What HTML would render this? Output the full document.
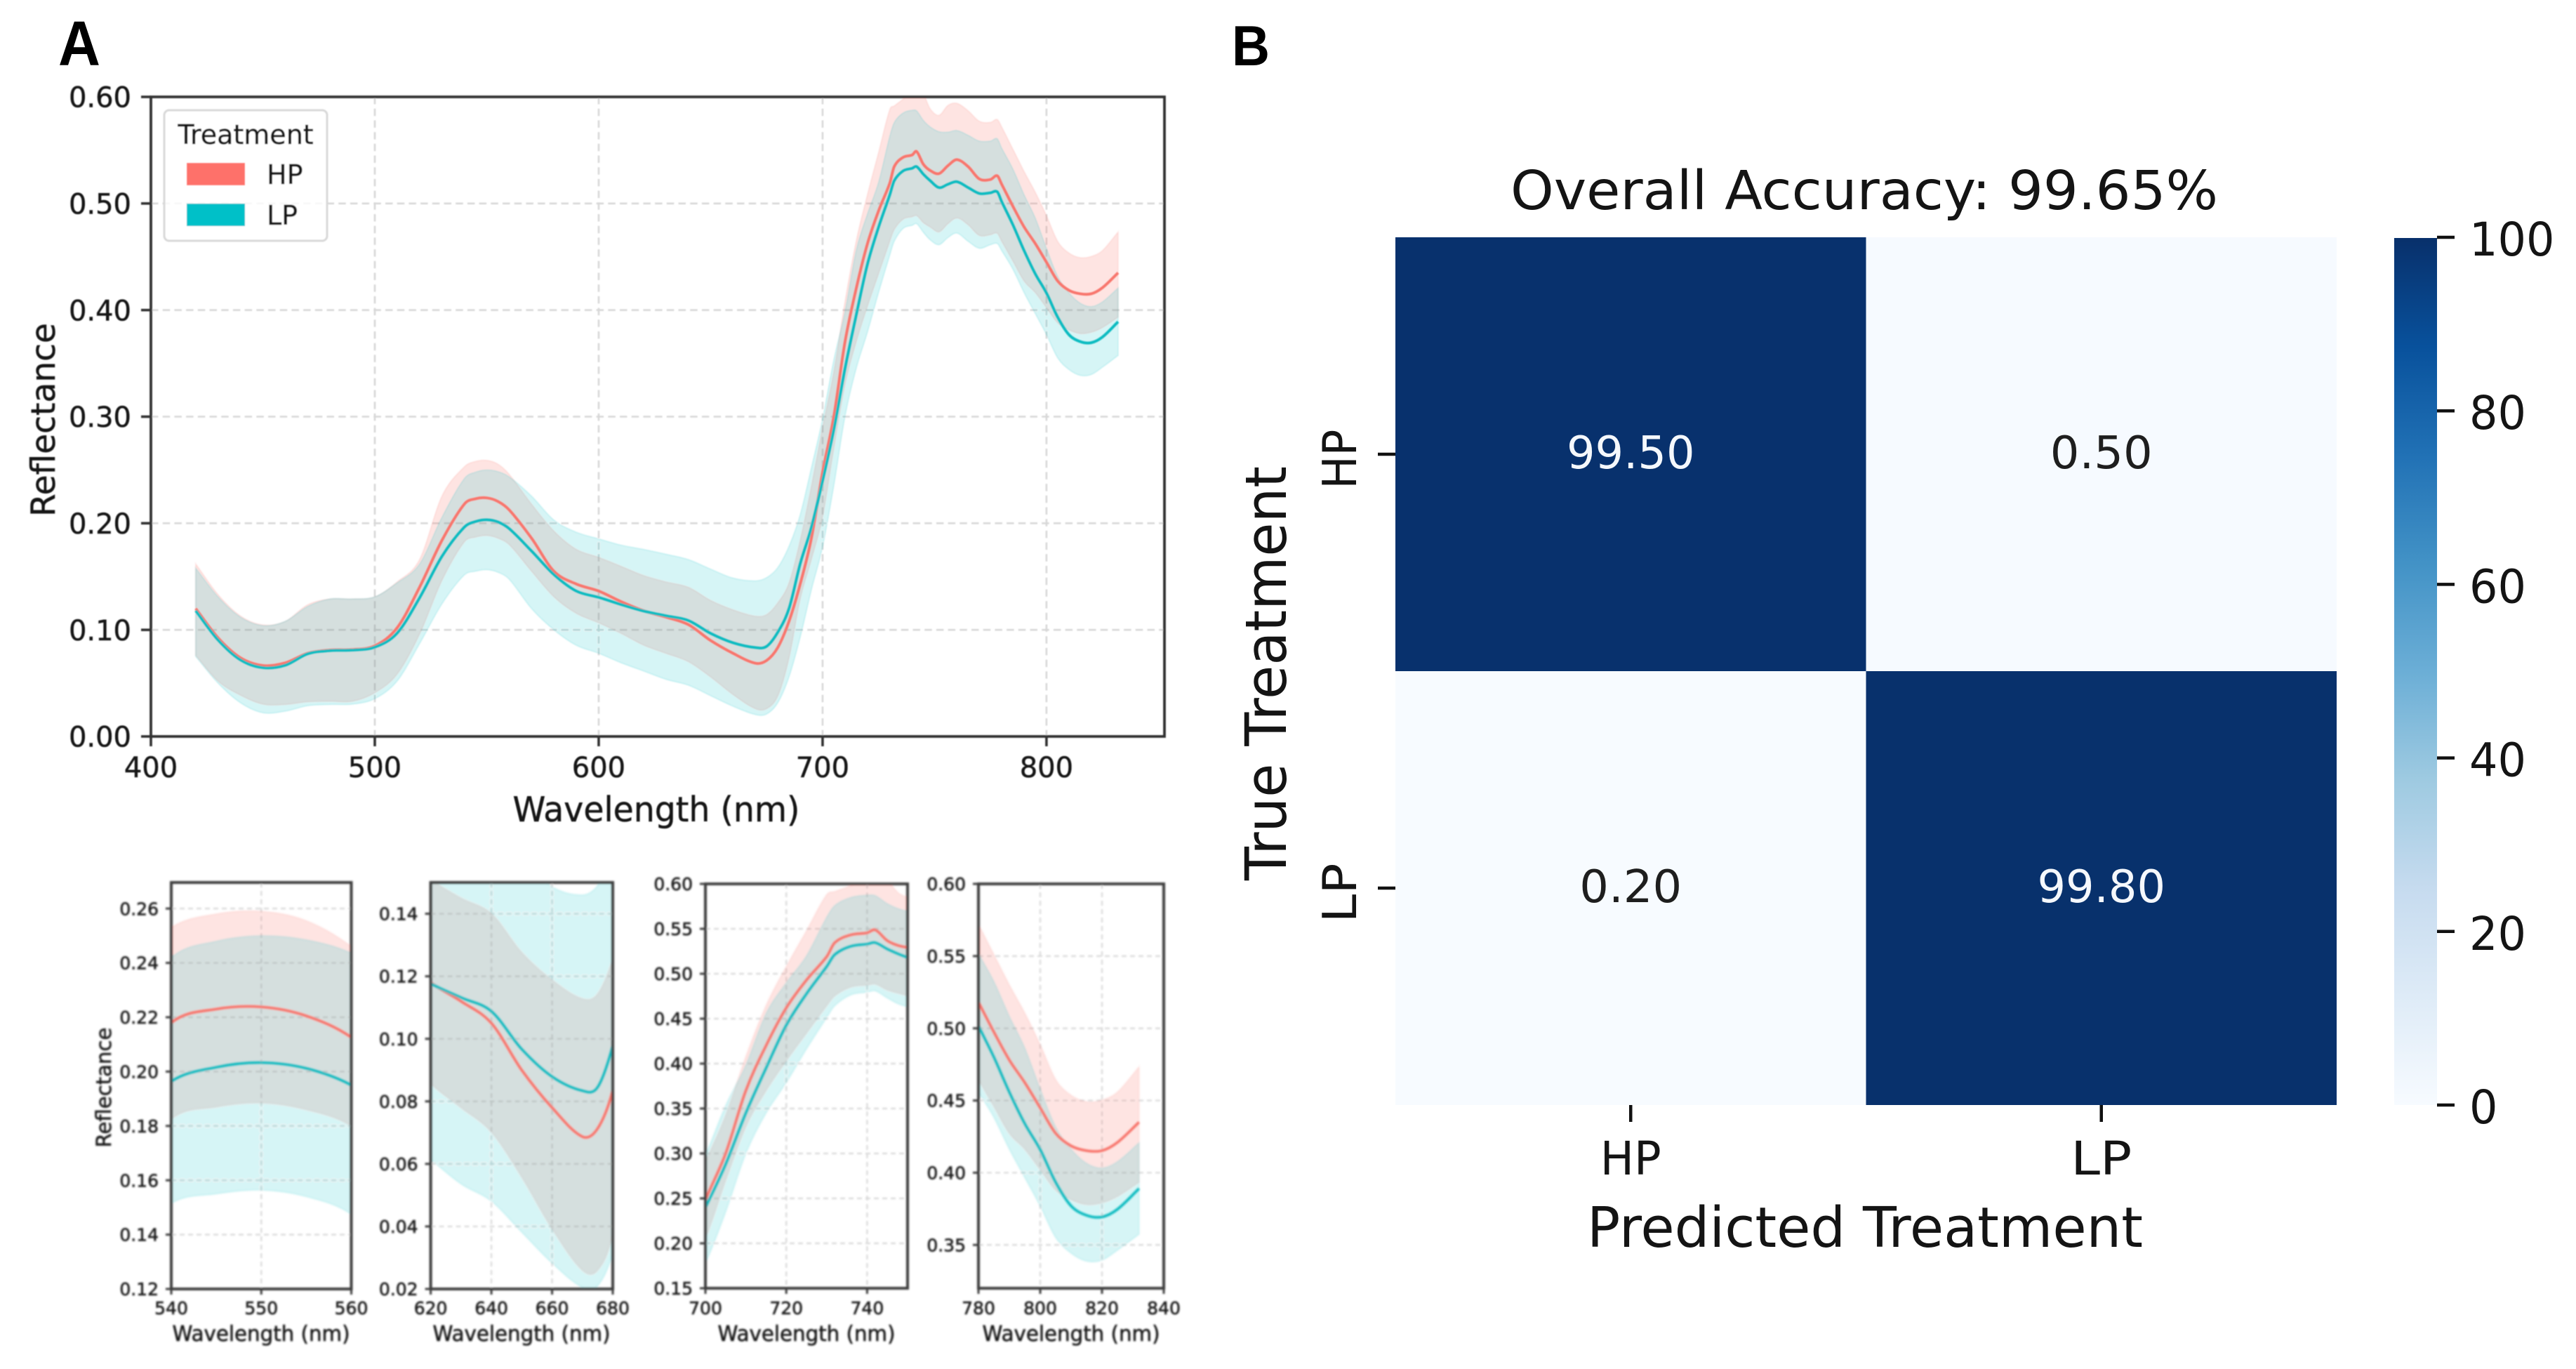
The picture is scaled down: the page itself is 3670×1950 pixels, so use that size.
<!DOCTYPE html>
<html lang="en">
<head>
<meta charset="utf-8">
<title>Reflectance spectra and confusion matrix</title>
<style>
html,body{margin:0;padding:0;background:#fff;}
svg{display:block;}
text{font-family:"DejaVu Sans","Liberation Sans",sans-serif;fill:#141414;}
#main-panel text,#legend text{stroke:#1a1a1a;stroke-width:.5px;}
#sub-panel-1 text,#sub-panel-2 text,#sub-panel-3 text,#sub-panel-4 text{stroke:#1a1a1a;stroke-width:.55px;}
.panel-letter{font-family:"Liberation Sans",sans-serif;font-weight:700;fill:#000;}
</style>
</head>
<body>
<svg id="figure" xmlns="http://www.w3.org/2000/svg" width="3670" height="1950" viewBox="0 0 3670 1950">
  <defs>
    <filter id="soft-main" x="-5%" y="-5%" width="110%" height="110%"><feGaussianBlur stdDeviation="0.9"/></filter>
    <filter id="soft-sub" x="-5%" y="-5%" width="110%" height="110%"><feGaussianBlur stdDeviation="1.3"/></filter>
    <linearGradient id="blues-gradient" x1="0" y1="1" x2="0" y2="0"></linearGradient>
  </defs>
  <rect width="3670" height="1950" fill="#fff"/>

  <text class="panel-letter" x="83" y="93" font-size="90" textLength="60" lengthAdjust="spacingAndGlyphs">A</text>
  <text class="panel-letter" x="1755" y="93" font-size="81" textLength="54" lengthAdjust="spacingAndGlyphs">B</text>

  <g id="main-panel" filter="url(#soft-main)">
    <text x="935" y="1170" font-size="49" text-anchor="middle" textLength="409" lengthAdjust="spacingAndGlyphs">Wavelength (nm)</text>
    <text transform="translate(78,598) rotate(-90)" font-size="47" text-anchor="middle" textLength="276" lengthAdjust="spacingAndGlyphs">Reflectance</text>
  </g>

  <g id="sub-panel-1" filter="url(#soft-sub)">
    <text x="372" y="1910" font-size="30" text-anchor="middle" textLength="253" lengthAdjust="spacingAndGlyphs">Wavelength (nm)</text>
    <text transform="translate(158,1549) rotate(-90)" font-size="29" text-anchor="middle" textLength="171" lengthAdjust="spacingAndGlyphs">Reflectance</text>
  </g>
  <g id="sub-panel-2" filter="url(#soft-sub)">
    <text x="743" y="1910" font-size="30" text-anchor="middle" textLength="253" lengthAdjust="spacingAndGlyphs">Wavelength (nm)</text>
  </g>
  <g id="sub-panel-3" filter="url(#soft-sub)">
    <text x="1149" y="1910" font-size="30" text-anchor="middle" textLength="253" lengthAdjust="spacingAndGlyphs">Wavelength (nm)</text>
  </g>
  <g id="sub-panel-4" filter="url(#soft-sub)">
    <text x="1526" y="1910" font-size="30" text-anchor="middle" textLength="253" lengthAdjust="spacingAndGlyphs">Wavelength (nm)</text>
  </g>

  <g id="legend" filter="url(#soft-main)">
    <rect x="234" y="157" width="232" height="186" rx="7" fill="#fff" fill-opacity="0.8" stroke="#d8d8d8" stroke-width="3"/>
    <text x="350" y="205" font-size="38" text-anchor="middle">Treatment</text>
    <rect x="266" y="232" width="83" height="32" fill="#fe716a"/>
    <text x="380" y="262" font-size="38">HP</text>
    <rect x="266" y="290" width="83" height="32" fill="#00c0c8"/>
    <text x="380" y="320" font-size="38">LP</text>
  </g>

  <g id="heatmap">
    <text x="2656" y="298" font-size="77" text-anchor="middle" textLength="1008" lengthAdjust="spacingAndGlyphs">Overall Accuracy: 99.65%</text>
    <text x="2657" y="1776" font-size="79" text-anchor="middle" textLength="792" lengthAdjust="spacingAndGlyphs">Predicted Treatment</text>
    <text transform="translate(1832,959) rotate(-90)" font-size="81" text-anchor="middle" textLength="590" lengthAdjust="spacingAndGlyphs">True Treatment</text>
    <rect x="3411" y="339" width="61" height="1235" fill="url(#blues-gradient)"/>
  </g>
</svg>

<script>
// Spectral data
const wavelengths = [420,430,440,450,460,470,480,490,500,510,520,530,540,545,550,555,560,570,580,590,600,610,620,630,640,650,660,670,675,680,685,690,695,700,705,710,715,720,725,730,732,736,740,742,745,748,752,756,760,765,770,775,778,780,785,790,795,800,805,810,815,820,825,832];
const hpMean = [.12,.0925,.0738,.0665,.069,.078,.081,.0815,.085,.102,.14,.184,.218,.223,.2238,.2205,.2126,.186,.155,.143,.1364,.1265,.118,.112,.105,.09,.078,.0687,.0713,.0835,.108,.143,.186,.248,.30,.37,.42,.462,.493,.519,.5346,.5433,.5455,.5488,.5368,.531,.528,.5355,.5411,.5346,.523,.5225,.526,.518,.4974,.478,.4624,.4449,.4273,.4186,.4153,.4153,.421,.435];
const lpMean = [.118,.0905,.0718,.0645,.0668,.0775,.0805,.081,.0838,.097,.13,.169,.1964,.2016,.2033,.2012,.195,.174,.1519,.1364,.1305,.1238,.1177,.1132,.1088,.0967,.0879,.0834,.0845,.0978,.12,.162,.196,.24,.288,.345,.395,.4427,.4777,.508,.5214,.5306,.533,.5346,.5275,.5215,.5149,.518,.5204,.5149,.5094,.51,.511,.5017,.48,.4558,.434,.416,.3934,.377,.3705,.3694,.3747,.389];
const hpUpper = [.162,.133,.113,.1046,.108,.1235,.129,.129,.131,.145,.166,.2255,.253,.258,.259,.2555,.246,.218,.1927,.1755,.168,.1596,.151,.145,.14,.1276,.1188,.1128,.1143,.1254,.144,.184,.2347,.29,.342,.4077,.4645,.508,.5477,.588,.5915,.598,.606,.607,.603,.589,.5827,.592,.594,.587,.5772,.5761,.5788,.5718,.551,.53,.5105,.4886,.4645,.4536,.4492,.4503,.4558,.4733];
const hpLower = [.076,.0519,.0387,.0303,.03,.0325,.033,.033,.041,.0585,.096,.1464,.1825,.187,.1885,.186,.18,.155,.131,.1155,.1066,.0967,.0857,.078,.0702,.0558,.0393,.026,.026,.038,.0735,.1287,.166,.206,.27,.33,.37,.4033,.434,.4645,.4755,.4853,.4875,.4886,.482,.478,.4733,.481,.4864,.48,.47,.4707,.472,.4645,.446,.4273,.4164,.4022,.388,.3814,.378,.3792,.3836,.3934];
const lpUpper = [.158,.131,.112,.104,.108,.122,.129,.129,.131,.1442,.1618,.2057,.242,.248,.25,.2485,.2436,.2255,.203,.1916,.1854,.1795,.1755,.171,.166,.157,.1486,.146,.149,.1585,.1784,.208,.252,.298,.353,.3985,.4558,.49,.52,.563,.576,.585,.5875,.587,.578,.572,.5674,.567,.5685,.564,.5586,.5586,.5608,.552,.5324,.5083,.4864,.458,.4317,.4164,.4066,.4033,.4077,.4208];
const lpLower = [.075,.05,.0316,.0222,.0237,.0288,.03,.0303,.0354,.052,.087,.1244,.1515,.155,.1564,.154,.1475,.12,.1,.0855,.078,.0691,.0614,.0536,.0481,.0382,.0283,.0205,.021,.0316,.0558,.093,.1375,.178,.235,.30,.345,.379,.4164,.4514,.4645,.4766,.4795,.481,.473,.466,.4613,.468,.4722,.4645,.458,.4613,.4624,.4558,.4383,.4164,.3967,.377,.3552,.3443,.3388,.3395,.3464,.3574];

// Tick labels
const mainXTicks = ['400','500','600','700','800'];
const mainYTicks = ['0.00','0.10','0.20','0.30','0.40','0.50','0.60'];
const inset1XTicks = ['540','550','560'];
const inset1YTicks = ['0.12','0.14','0.16','0.18','0.20','0.22','0.24','0.26'];
const inset2XTicks = ['620','640','660','680'];
const inset2YTicks = ['0.02','0.04','0.06','0.08','0.10','0.12','0.14'];
const inset3XTicks = ['700','720','740'];
const inset3YTicks = ['0.15','0.20','0.25','0.30','0.35','0.40','0.45','0.50','0.55','0.60'];
const inset4XTicks = ['780','800','820','840'];
const inset4YTicks = ['0.35','0.40','0.45','0.50','0.55','0.60'];

// Confusion matrix
const matrixCategories = ['HP','LP'];
const matrixValues = [[99.50,0.50],[0.20,99.80]];
const matrixLabels = [['99.50','0.50'],['0.20','99.80']];
const colorbarTicks = ['0','20','40','60','80','100'];
const bluesRamp = ['#f7fbff','#deebf7','#c6dbef','#9ecae1','#6baed6','#4292c6','#2171b5','#08519c','#08306b'];

const SVGNS = 'http://www.w3.org/2000/svg';
const HP_COLOR = '#f8766d';
const LP_COLOR = '#00bfc4';

function mk(parent, tag, attrs, txt) {
  const el = document.createElementNS(SVGNS, tag);
  for (const k in attrs) el.setAttribute(k, attrs[k]);
  if (txt !== undefined) el.textContent = txt;
  parent.appendChild(el);
  return el;
}

function curveThrough(pts, moveFirst) {
  let d = (moveFirst ? 'M' : 'L') + pts[0][0].toFixed(2) + ' ' + pts[0][1].toFixed(2);
  for (let i = 0; i < pts.length - 1; i++) {
    const p0 = pts[Math.max(i - 1, 0)], p1 = pts[i], p2 = pts[i + 1], p3 = pts[Math.min(i + 2, pts.length - 1)];
    const h = p2[0] - p1[0];
    const m1 = (p2[1] - p0[1]) / ((p2[0] - p0[0]) || 1);
    const m2 = (p3[1] - p1[1]) / ((p3[0] - p1[0]) || 1);
    const s = h / 3;
    d += 'C' + (p1[0] + s).toFixed(2) + ' ' + (p1[1] + m1 * s).toFixed(2) + ' ' +
         (p2[0] - s).toFixed(2) + ' ' + (p2[1] - m2 * s).toFixed(2) + ' ' +
         p2[0].toFixed(2) + ' ' + p2[1].toFixed(2);
  }
  return d;
}

function drawPanel(opt) {
  const g = document.getElementById(opt.groupId);
  const sx = v => opt.left + (v - opt.xMin) / (opt.xMax - opt.xMin) * (opt.right - opt.left);
  const sy = v => opt.bottom - (v - opt.yMin) / (opt.yMax - opt.yMin) * (opt.bottom - opt.top);

  const clip = mk(g, 'clipPath', {id: opt.groupId + '-clip'});
  mk(clip, 'rect', {x: opt.left, y: opt.top, width: opt.right - opt.left, height: opt.bottom - opt.top});

  const plot = mk(g, 'g', {'clip-path': 'url(#' + opt.groupId + '-clip)'});
  
  

  opt.xTicks.forEach(t => {
    const x = sx(+t);
    const line = mk(plot, 'line', {x1: x, x2: x, y1: opt.top, y2: opt.bottom, stroke: '#d8d8d8', 'stroke-width': opt.gridWidth, 'stroke-dasharray': opt.dash});
    
    
  });
  opt.yTicks.forEach(t => {
    const y = sy(+t);
    const line = mk(plot, 'line', {x1: opt.left, x2: opt.right, y1: y, y2: y, stroke: '#d8d8d8', 'stroke-width': opt.gridWidth, 'stroke-dasharray': opt.dash});
    
    
  });

  // keep one sample beyond the window so curves reach the axes
  const idx = [];
  wavelengths.forEach((w, i) => {
    const prev = wavelengths[i + 1] !== undefined && wavelengths[i + 1] >= opt.xMin;
    const next = wavelengths[i - 1] !== undefined && wavelengths[i - 1] <= opt.xMax;
    if ((w >= opt.xMin && w <= opt.xMax) || (prev && w < opt.xMin) || (next && w > opt.xMax)) idx.push(i);
  });
  const pick = arr => idx.map(i => [sx(wavelengths[i]), sy(arr[i])]);
  const band = (up, lo, color, alpha, name) => {
    const top = pick(up), bot = pick(lo).reverse();
    const d = curveThrough(top, true) + curveThrough(bot, false) + 'Z';
    const el = mk(plot, 'path', {d: d, fill: color, 'fill-opacity': alpha, stroke: color, 'stroke-opacity': 0.12, 'stroke-width': 2});
    
    
  };
  const meanLine = (vals, color, name) => {
    const el = mk(plot, 'path', {d: curveThrough(pick(vals), true), fill: 'none', stroke: color, 'stroke-width': opt.lineWidth, 'stroke-linejoin': 'round'});
    
    
  };
  band(hpUpper, hpLower, HP_COLOR, 0.2, 'hp-std-band');
  band(lpUpper, lpLower, LP_COLOR, 0.16, 'lp-std-band');
  meanLine(hpMean, HP_COLOR, 'hp-mean-line');
  meanLine(lpMean, '#0cbcc1', 'lp-mean-line');

  const frame = mk(g, 'rect', {x: opt.left, y: opt.top, width: opt.right - opt.left, height: opt.bottom - opt.top, fill: 'none', stroke: opt.spine, 'stroke-width': opt.spineWidth});
  
  

  opt.xTicks.forEach(t => {
    const x = sx(+t);
    const tick = mk(g, 'line', {x1: x, x2: x, y1: opt.bottom, y2: opt.bottom + opt.tickLen, stroke: opt.spine, 'stroke-width': opt.tickWidth});
    
    
    const label = mk(g, 'text', {x: x, y: opt.xLabelY, 'font-size': opt.tickFont, 'text-anchor': 'middle'}, t);
    
    
  });
  opt.yTicks.forEach(t => {
    const y = sy(+t);
    const tick = mk(g, 'line', {x1: opt.left - opt.tickLen, x2: opt.left, y1: y, y2: y, stroke: opt.spine, 'stroke-width': opt.tickWidth});
    
    
    const label = mk(g, 'text', {x: opt.left - opt.yLabelGap, y: y + opt.tickFont * 0.365, 'font-size': opt.tickFont, 'text-anchor': 'end'}, t);
    
    
  });
}

const subStyle = {gridWidth: 2.2, dash: '7 5', lineWidth: 3.8, spine: '#3c3c3c', spineWidth: 4, tickLen: 8, tickWidth: 3, tickFont: 25, xLabelY: 1872, yLabelGap: 18};

drawPanel({groupId: 'main-panel', left: 215, right: 1659, top: 138, bottom: 1049, xMin: 400, xMax: 852.7, yMin: 0, yMax: 0.6,
  xTicks: mainXTicks, yTicks: mainYTicks, gridWidth: 2.6, dash: '10.5 6.2', lineWidth: 4, spine: '#333', spineWidth: 3.8, tickLen: 14, tickWidth: 3.6, tickFont: 40, xLabelY: 1107, yLabelGap: 28});
drawPanel(Object.assign({}, subStyle, {groupId: 'sub-panel-1', left: 244, right: 500.5, top: 1257, bottom: 1836, xMin: 540, xMax: 560, yMin: 0.12, yMax: 0.2696, xTicks: inset1XTicks, yTicks: inset1YTicks}));
drawPanel(Object.assign({}, subStyle, {groupId: 'sub-panel-2', left: 613.6, right: 873, top: 1257, bottom: 1836, xMin: 620, xMax: 680, yMin: 0.02, yMax: 0.15, xTicks: inset2XTicks, yTicks: inset2YTicks}));
drawPanel(Object.assign({}, subStyle, {groupId: 'sub-panel-3', left: 1005, right: 1293, top: 1259, bottom: 1835, xMin: 700, xMax: 750, yMin: 0.15, yMax: 0.60, xTicks: inset3XTicks, yTicks: inset3YTicks}));
drawPanel(Object.assign({}, subStyle, {groupId: 'sub-panel-4', left: 1394, right: 1658, top: 1259, bottom: 1835, xMin: 780, xMax: 840, yMin: 0.32, yMax: 0.60, xTicks: inset4XTicks, yTicks: inset4YTicks}));

// Legend must sit above the main plot
document.getElementById('figure').appendChild(document.getElementById('legend'));

// Heatmap
function hexToRgb(h) { return [1, 3, 5].map(i => parseInt(h.substr(i, 2), 16)); }
function bluesColor(v) {
  const t = Math.max(0, Math.min(1, v / 100)) * (bluesRamp.length - 1);
  const i = Math.min(Math.floor(t), bluesRamp.length - 2);
  const a = hexToRgb(bluesRamp[i]), b = hexToRgb(bluesRamp[i + 1]), f = t - i;
  return 'rgb(' + a.map((c, k) => Math.round(c + (b[k] - c) * f)).join(',') + ')';
}
(function drawHeatmap() {
  const g = document.getElementById('heatmap');
  const left = 1988, right = 3329, top = 338, bottom = 1574;
  const cellW = (right - left) / matrixCategories.length;
  const cellH = (bottom - top) / matrixCategories.length;

  const grad = document.getElementById('blues-gradient');
  bluesRamp.forEach((c, i) => {
    mk(grad, 'stop', {offset: i / (bluesRamp.length - 1), 'stop-color': c});
  });

  matrixValues.forEach((row, r) => {
    row.forEach((v, c) => {
      const x = left + c * cellW, y = top + r * cellH;
      const cell = mk(g, 'rect', {x: x, y: y, width: cellW, height: cellH, fill: bluesColor(v)});
      
      
      const label = mk(g, 'text', {x: x + cellW / 2, y: y + cellH / 2 + 20, 'font-size': 64, 'text-anchor': 'middle', textLength: matrixLabels[r][c].length * 36.5, lengthAdjust: 'spacingAndGlyphs'}, matrixLabels[r][c]);
      label.style.fill = v > 50 ? '#f5f8fc' : '#1e1e1e';
      
      
    });
  });

  matrixCategories.forEach((name, i) => {
    const cx = left + (i + 0.5) * cellW;
    const xt = mk(g, 'line', {x1: cx, x2: cx, y1: bottom, y2: bottom + 24, stroke: '#111', 'stroke-width': 4.5});
    
    
    const xl = mk(g, 'text', {x: cx, y: 1673, 'font-size': 66, 'text-anchor': 'middle', textLength: 87, lengthAdjust: 'spacingAndGlyphs'}, name);
    
    

    const cy = top + (i + 0.5) * cellH;
    const yt = mk(g, 'line', {x1: left - 25, x2: left, y1: cy, y2: cy, stroke: '#111', 'stroke-width': 4.5});
    
    
    const yl = mk(g, 'text', {transform: 'translate(1932,' + (cy + 7) + ') rotate(-90)', 'font-size': 67, 'text-anchor': 'middle', textLength: 85, lengthAdjust: 'spacingAndGlyphs'}, name);
    
    
  });

  const cbY = v => bottom - v / 100 * (bottom - top);
  colorbarTicks.forEach(t => {
    const y = cbY(+t);
    const tick = mk(g, 'line', {x1: 3472, x2: 3497, y1: y, y2: y, stroke: '#111', 'stroke-width': 4.5});
    
    
    const label = mk(g, 'text', {x: 3518, y: y + 26, 'font-size': 66, textLength: t.length * 40.5, lengthAdjust: 'spacingAndGlyphs'}, t);
    
    
  });
})();
</script>
</body>
</html>
